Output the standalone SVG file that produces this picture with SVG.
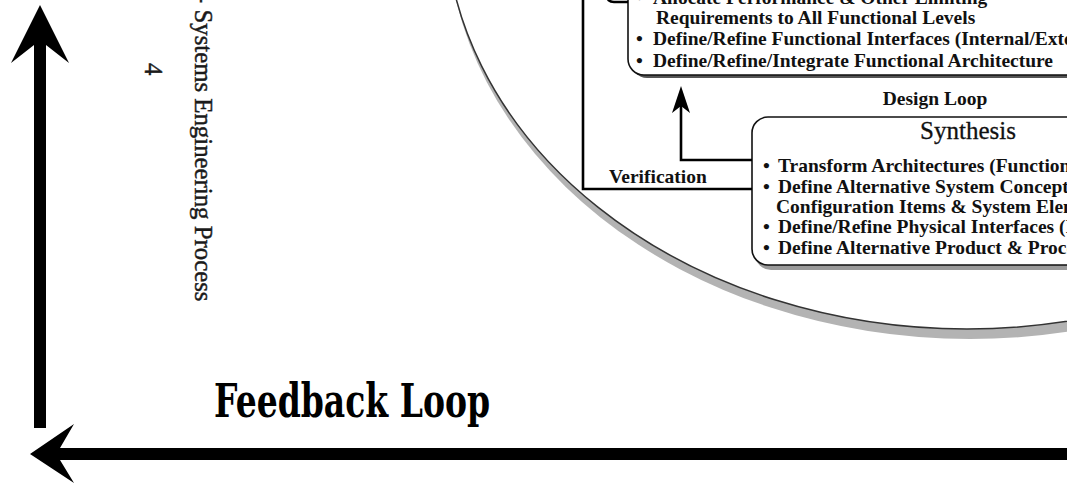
<svg xmlns="http://www.w3.org/2000/svg" width="1067" height="490" viewBox="0 0 1067 490">
  <style>
    .item { font-family: "Liberation Serif", "Times New Roman", serif; font-weight: bold; font-size: 19.5px; fill: #111; }
    .title { font-family: "Liberation Serif", "Times New Roman", serif; font-size: 25px; fill: #111; stroke: #111; stroke-width: 0.3; }
    .side { font-family: "Liberation Serif", "Times New Roman", serif; font-size: 24.8px; fill: #1a1a1a; stroke: #1a1a1a; stroke-width: 0.45; }
    .big { font-family: "DejaVu Serif", "Liberation Serif", serif; font-weight: bold; font-size: 46px; fill: #000; }
    .box { fill: #fff; stroke: #111; stroke-width: 1.6; }
    .shadow { fill: #9a9a9a; }
    .wire { fill: none; stroke: #000; stroke-width: 2.6; }
  </style>

  <rect width="1067" height="490" fill="#fff"/>

  <!-- process oval with drop shadow -->
  <g id="oval">
    <ellipse cx="970" cy="-77" rx="523" ry="416" fill="#b3b3b3"/>
    <ellipse cx="967" cy="-87" rx="522" ry="416" fill="#fff" stroke="#333" stroke-width="1.5"/>
  </g>

  <!-- functional analysis box (upper) -->
  <g id="functional-box">
    <rect x="631" y="-40" width="600" height="118" rx="16" fill="#555"/>
    <rect x="628" y="-40" width="600" height="115" rx="16" class="box"/>
    <text class="item" x="636" y="3.5">•</text>
    <text class="item" x="653" y="3.5">Allocate Performance &amp; Other Limiting</text>
    <text class="item" x="656" y="24">Requirements to All Functional Levels</text>
    <text class="item" x="636" y="45">•</text>
    <text class="item" x="653" y="45">Define/Refine Functional Interfaces (Internal/External)</text>
    <text class="item" x="636" y="67">•</text>
    <text class="item" x="653" y="67">Define/Refine/Integrate Functional Architecture</text>
  </g>

  <!-- synthesis box (lower) -->
  <g id="synthesis-box">
    <rect x="755" y="122" width="600" height="148" rx="16" class="shadow"/>
    <rect x="752" y="117" width="600" height="148" rx="16" class="box"/>
    <text class="title" x="968" y="139" text-anchor="middle">Synthesis</text>
    <text class="item" x="763" y="172">•</text>
    <text class="item" x="778" y="172">Transform Architectures (Functional to Physical)</text>
    <text class="item" x="763" y="193">•</text>
    <text class="item" x="778" y="193">Define Alternative System Concepts,</text>
    <text class="item" x="776" y="213">Configuration Items &amp; System Elements</text>
    <text class="item" x="763" y="233">•</text>
    <text class="item" x="778" y="233">Define/Refine Physical Interfaces (Internal/External)</text>
    <text class="item" x="763" y="254">•</text>
    <text class="item" x="778" y="254">Define Alternative Product &amp; Process Solutions</text>
  </g>

  <!-- loops between the boxes -->
  <g id="connectors">
    <path class="wire" d="M607,-5 Q607,2 614,2 L628,2"/>
    <path class="wire" d="M583,-2 L583,189 L752,189"/>
    <path class="wire" d="M752,160 L681,160 L681,104"/>
    <polygon points="681,86 690,113 681,106 672,113" fill="#000"/>
  </g>

  <g id="labels">
    <text class="item" x="935" y="105" text-anchor="middle">Design Loop</text>
    <text class="item" x="609" y="183">Verification</text>
  </g>

  <!-- page margin caption, printed sideways -->
  <g id="side-caption">
    <text class="side" transform="translate(195,-5) rotate(90)">- Systems Engineering Process</text>
    <text class="side" font-size="21" transform="translate(145,63) rotate(90)">4</text>
  </g>

  <!-- feedback arrows -->
  <g id="feedback">
    <polygon points="40,5 69,63 46,45 46,428 34,428 34,45 11,63" fill="#000"/>
    <polygon points="30,454 74,424 60,448 1067,448 1067,460 60,460 74,483" fill="#000"/>
    <text class="big" x="214" y="417" textLength="276" lengthAdjust="spacingAndGlyphs">Feedback Loop</text>
  </g>
</svg>
